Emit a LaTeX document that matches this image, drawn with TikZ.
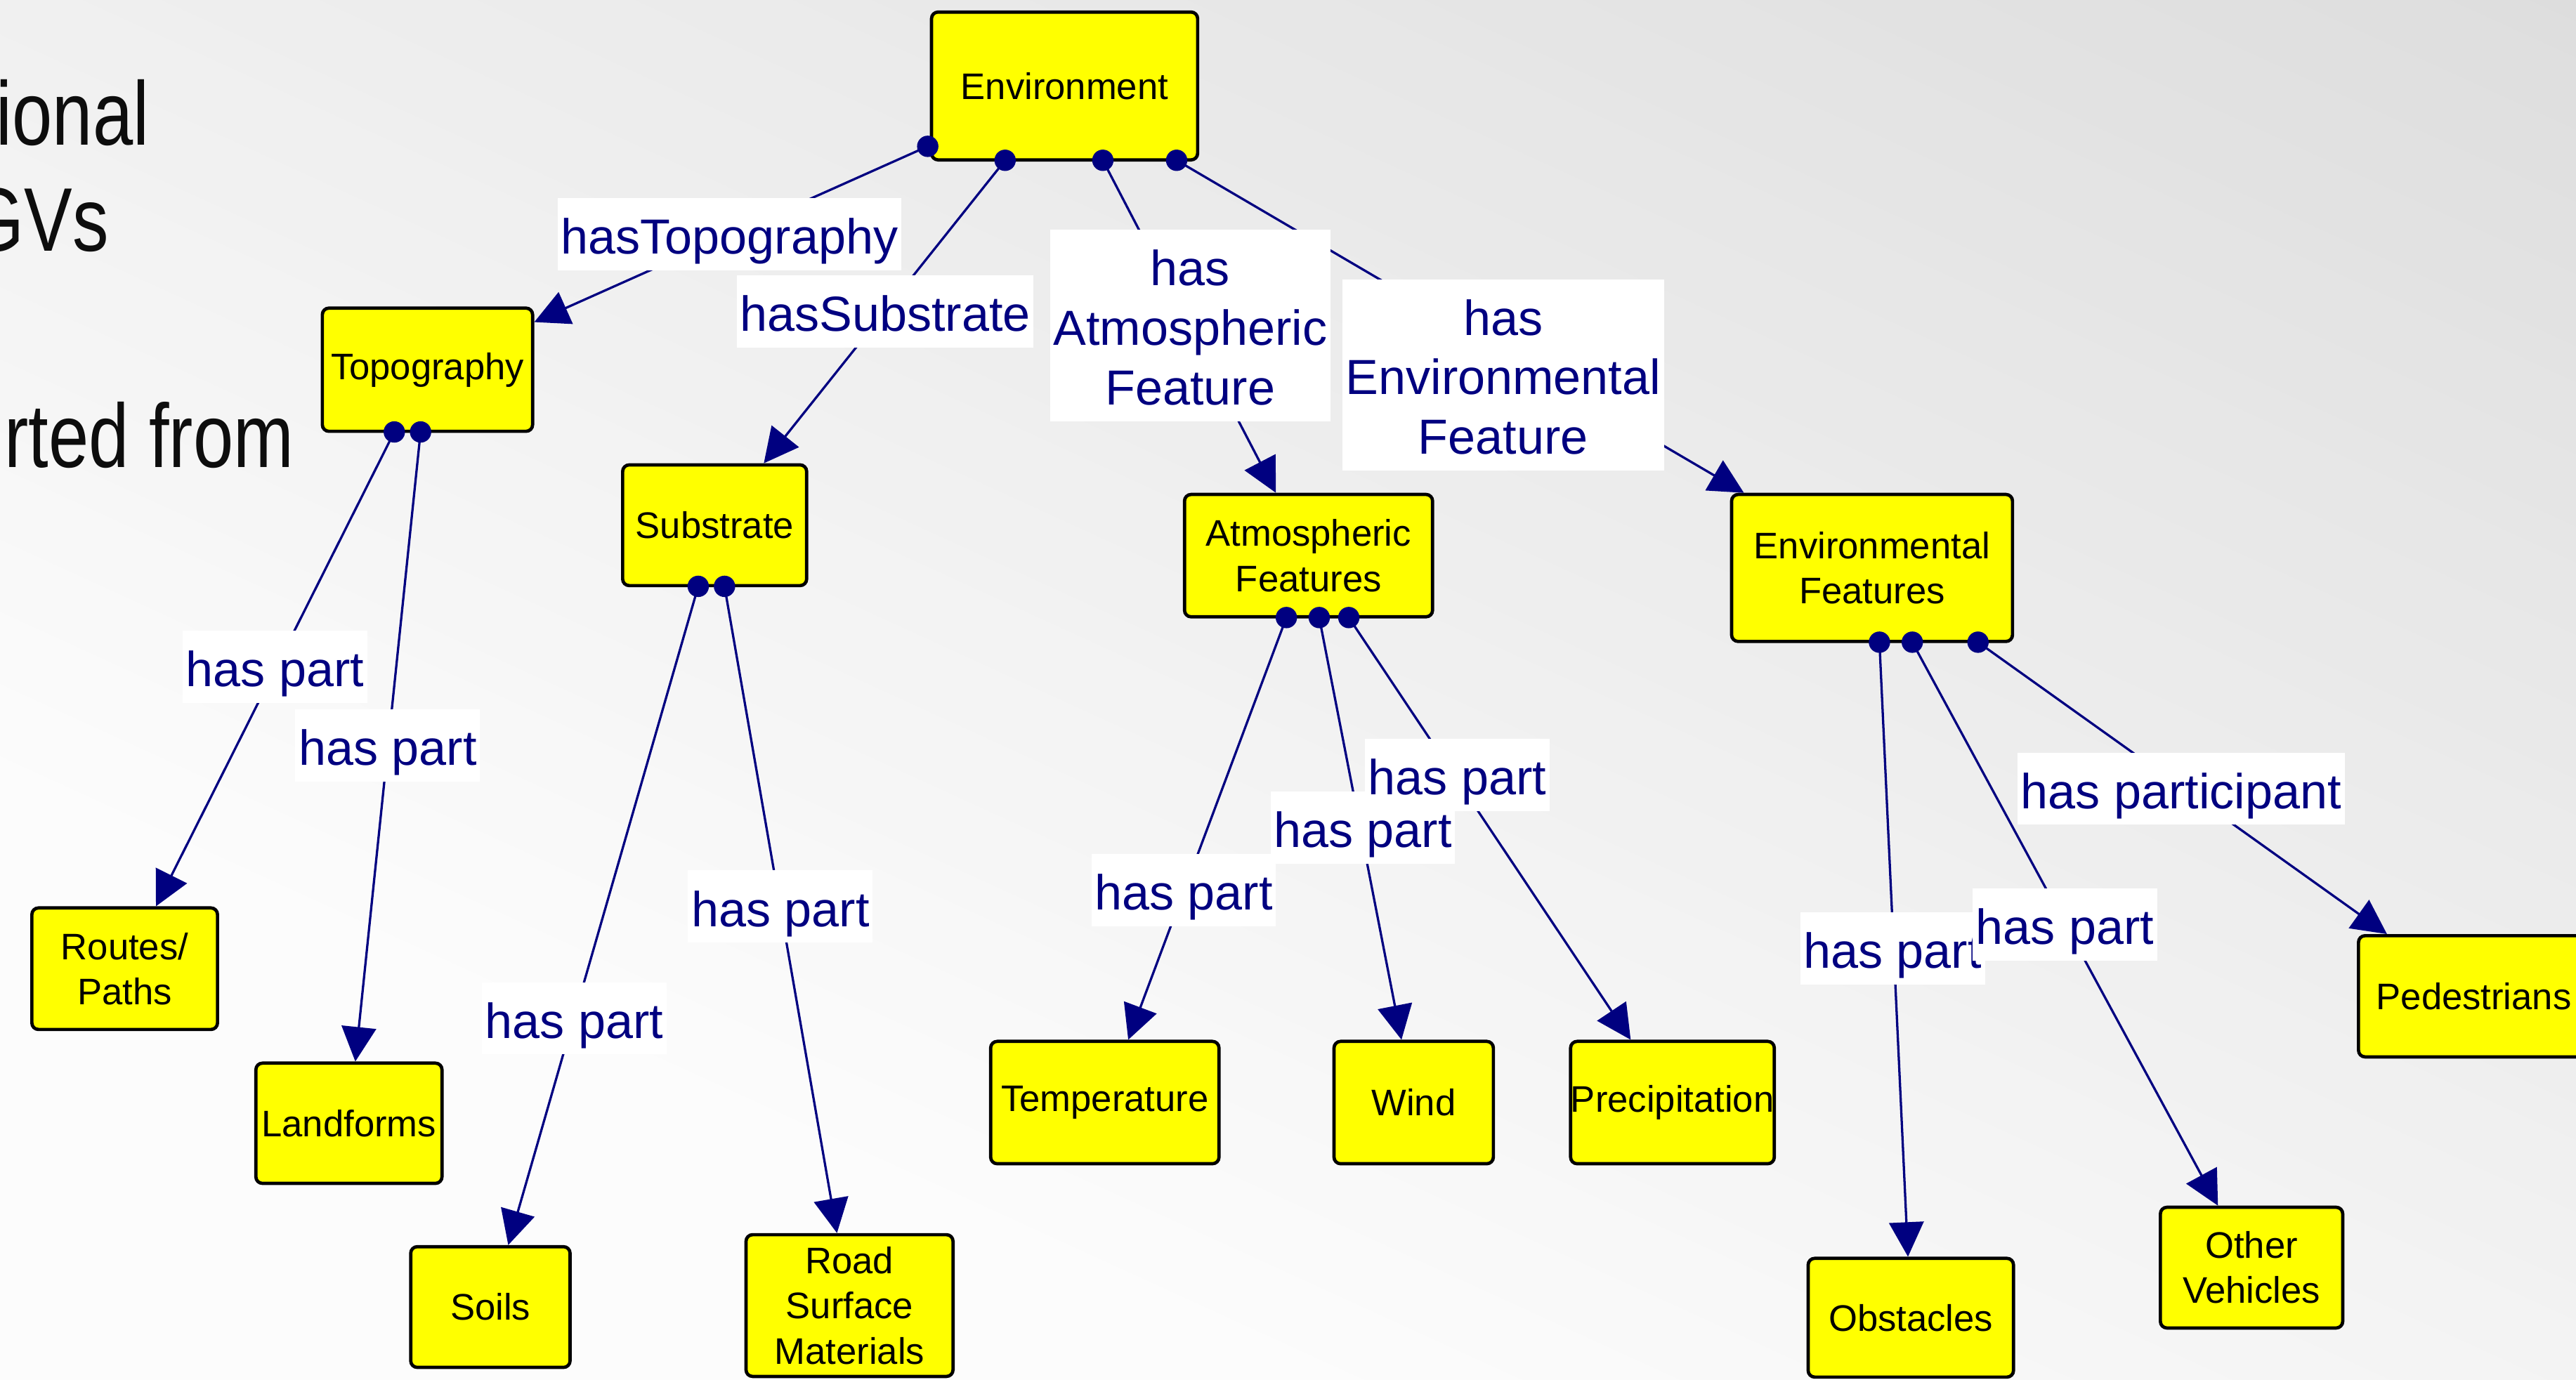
\documentclass[tikz,border=0pt]{standalone}
\usepackage{fontspec}
\setmainfont{Liberation Sans}
\newfontfamily\slidefont[FakeStretch=0.8]{Liberation Sans}
\usetikzlibrary{arrows.meta}

\definecolor{conceptyellow}{HTML}{FFFF00}
\definecolor{relnavy}{HTML}{000080}
\definecolor{slidetext}{HTML}{0D0D0D}

% relation labels: fixed room above the first and below the last baseline
\newcommand{\rl}[1]{\rule{0pt}{34pt}#1\rule[-10pt]{0pt}{10pt}}

\begin{document}
\begin{tikzpicture}[x=1pt,y=-1pt,
  concept/.style={draw=black, line width=2pt, fill=conceptyellow,
    rounded corners=4pt, align=center, inner sep=0pt,
    font=\fontsize{22.5}{27.5}\selectfont},
  rel/.style={fill=white, text=relnavy, align=center,
    inner xsep=2pt, inner ysep=0pt,
    font=\fontsize{30}{36.3}\selectfont},
  link/.style={draw=relnavy, line width=1.4pt,
    -{Triangle[length=21pt,width=21pt]}},
  port/.style={fill=relnavy},
  slideline/.style={text=slidetext, anchor=base east, inner sep=0pt,
    font=\slidefont\fontsize{55}{66}\selectfont}]

\useasboundingbox (0,0) rectangle (1568,840);
\clip (0,0) rectangle (1568,840);

% slide background: light grey ramp, brighter towards the lower left
\foreach \s in {-680,-660,...,780}{
  \pgfmathsetmacro{\g}{min(252,239.9+0.0284*(\s+10))/255}
  \definecolor{bgstrip}{gray}{\g}
  \pgfmathsetmacro{\aa}{\s-1}
  \pgfmathsetmacro{\bb}{\s+21}
  \fill[bgstrip]
    ({-0.4155*\aa-1635.3},{0.9085*\aa-747.9}) --
    ({-0.4155*\aa+1635.3},{0.9085*\aa+747.9}) --
    ({-0.4155*\bb+1635.3},{0.9085*\bb+747.9}) --
    ({-0.4155*\bb-1635.3},{0.9085*\bb-747.9}) -- cycle;
}

% slide text running out at the left edge
\node[slideline] (st1) at (91,88.5) {ional};
\node[slideline] (st2) at (66.5,153) {GVs};
\node[slideline] (st3) at (179,284.5) {rted from};

% concepts
\node[concept, minimum width=162pt, minimum height=90pt]   (env)    at (648,52.35)    {Environment};
\node[concept, minimum width=128pt, minimum height=75pt]   (topo)   at (260.2,225.1)  {Topography};
\node[concept, minimum width=112pt, minimum height=73.5pt] (subs)   at (435,319.8)    {Substrate};
\node[concept, minimum width=151pt, minimum height=74.5pt] (atmo)   at (796.5,338.3)  {Atmospheric\\Features};
\node[concept, minimum width=171pt, minimum height=89.5pt] (envf)   at (1139.5,345.8) {Environmental\\Features};
\node[concept, minimum width=113pt, minimum height=74pt]   (routes) at (75.9,589.8)   {Routes/\\Paths};
\node[concept, minimum width=113.3pt, minimum height=73.2pt] (land) at (212.4,683.9)  {Landforms};
\node[concept, minimum width=97pt, minimum height=73.5pt]  (soils)  at (298.5,795.8)  {Soils};
\node[concept, minimum width=126pt, minimum height=86.3pt] (road)   at (517.1,794.9)  {Road\\Surface\\Materials};
\node[concept, minimum width=139pt, minimum height=74.5pt] (temp)   at (672.5,671.3)  {Temperature};
\node[concept, minimum width=97pt, minimum height=74.5pt]  (wind)   at (860.5,671.3)  {Wind};
\node[concept, minimum width=124pt, minimum height=74.5pt] (prec)   at (1018,671.3)   {Precipitation};
\node[concept, minimum width=125pt, minimum height=72.3pt] (obst)   at (1163.1,802.3) {Obstacles};
\node[concept, minimum width=111pt, minimum height=73.5pt] (veh)    at (1370.5,771.8) {Other\\Vehicles};
\node[concept, minimum width=140.4pt, minimum height=73.8pt] (ped)  at (1505.8,606.6) {Pedestrians};

% outgoing ports
\coordinate (envA)  at (564.7,89.1);
\coordinate (envB)  at (611.8,97.6);
\coordinate (envC)  at (671.3,97.6);
\coordinate (envD)  at (716.2,97.6);
\coordinate (topoA) at (240,263);
\coordinate (topoB) at (256,263);
\coordinate (subsA) at (425,357);
\coordinate (subsB) at (441,357);
\coordinate (atmoA) at (783,376);
\coordinate (atmoB) at (803,376);
\coordinate (atmoC) at (821,376);
\coordinate (envfA) at (1144,391);
\coordinate (envfB) at (1164,391);
\coordinate (envfC) at (1204,391);

% relations
\draw[link] (envA)  -- (topo);
\draw[link] (envB)  -- (subs);
\draw[link] (envC)  -- (atmo);
\draw[link] (envD)  -- (envf);
\draw[link] (topoA) -- (routes);
\draw[link] (topoB) -- (land);
\draw[link] (subsA) -- (soils);
\draw[link] (subsB) -- (road);
\draw[link] (atmoA) -- (temp);
\draw[link] (atmoB) -- (wind);
\draw[link] (atmoC) -- (prec);
\draw[link] (envfA) -- (obst);
\draw[link] (envfB) -- (veh);
\draw[link] (envfC) -- (ped);

\foreach \p in {envA,envB,envC,envD,topoA,topoB,subsA,subsB,
                atmoA,atmoB,atmoC,envfA,envfB,envfC}
  \fill[port] (\p) circle[radius=6.5pt];

% relation labels
\node[rel] (lTopo)   at (444,142.7)   {\rl{hasTopography}};
\node[rel] (lSubs)   at (538.8,189.5) {\rl{hasSubstrate}};
\node[rel] (lAtmo)   at (724.5,198.3) {\rl{has\\Atmospheric\\Feature}};
\node[rel] (lEnvf)   at (915,228.3)   {\rl{has\\Environmental\\Feature}};
\node[rel] (lRoutes) at (167.5,406)   {\rl{has part}};
\node[rel] (lLand)   at (236,454)     {\rl{has part}};
\node[rel] (lSoils)  at (349.5,620)   {\rl{has part}};
\node[rel] (lRoad)   at (475,552)     {\rl{has part}};
\node[rel] (lTemp)   at (720.5,542)   {\rl{has part}};
\node[rel] (lWind)   at (829.5,504)   {\rl{has part}};
\node[rel] (lPrec)   at (887,472)     {\rl{has part}};
\node[rel] (lObst)   at (1152,577.5)  {\rl{has part}};
\node[rel] (lVeh)    at (1257,563)    {\rl{has part}};
\node[rel] (lPed)    at (1327.7,480.2) {\rl{has participant}};

\end{tikzpicture}
\end{document}
